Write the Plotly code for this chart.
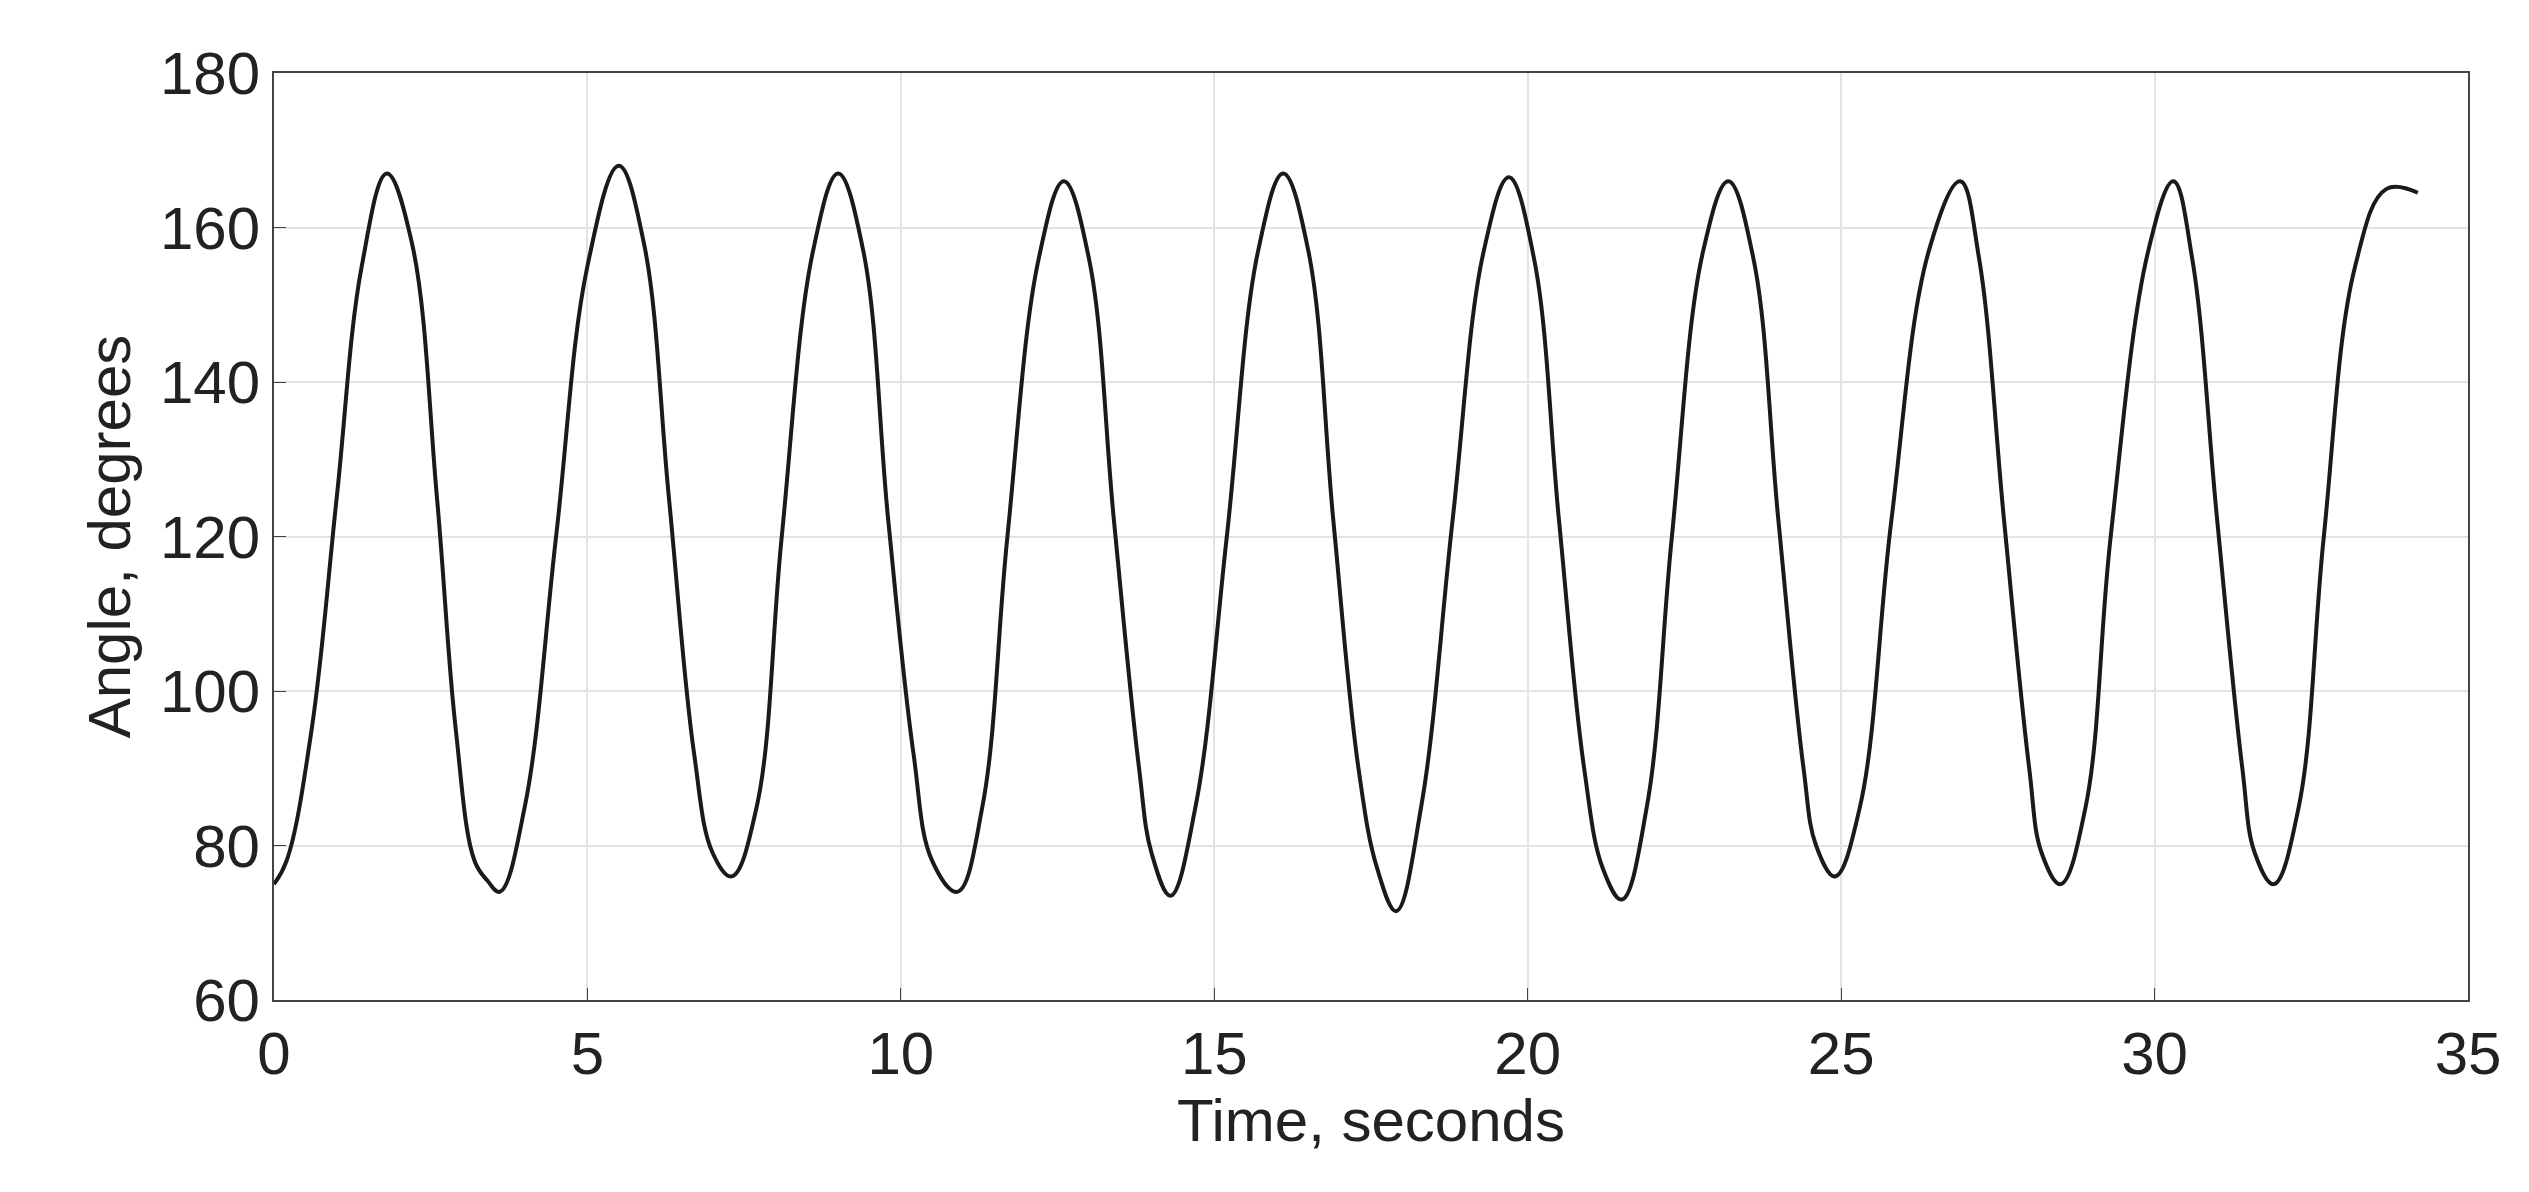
import plotly.graph_objects as go

time_s = [0, 0.2, 0.6, 1.0, 1.4, 1.8, 2.2, 2.6, 2.9, 3.2, 3.4, 3.6,
          4.0, 4.5, 5.0, 5.5, 5.9, 6.3, 6.7, 7.0, 7.3,
          7.7, 8.1, 8.6, 9.0, 9.4, 9.8, 10.2, 10.5, 10.9,
          11.3, 11.7, 12.2, 12.6, 13.0, 13.4, 13.8, 14.0, 14.3,
          14.7, 15.2, 15.7, 16.1, 16.5, 16.9, 17.3, 17.6, 17.9,
          18.3, 18.8, 19.3, 19.7, 20.1, 20.5, 20.9, 21.2, 21.5,
          21.9, 22.3, 22.8, 23.2, 23.6, 24.0, 24.4, 24.6, 24.9,
          25.3, 25.8, 26.4, 26.9, 27.2, 27.6, 28.0, 28.2, 28.5,
          28.9, 29.3, 29.9, 30.3, 30.6, 31.0, 31.4, 31.6, 31.9,
          32.3, 32.7, 33.2, 33.7, 34.2]
angle_deg = [75, 78, 95, 125, 155, 167, 158, 125, 95, 78, 75.5, 74,
             85, 120, 155, 168, 158, 125, 92, 79, 76,
             85, 120, 157, 167, 157, 122, 92, 78, 74,
             85, 120, 156, 166, 156, 122, 90, 79, 73.5,
             85, 120, 157, 167, 157, 122, 90, 77, 71.5,
             85, 122, 157, 166.5, 156, 122, 90, 77, 73,
             85, 120, 157, 166, 156, 122, 90, 80, 76,
             85, 122, 157, 166, 156, 122, 90, 79, 75,
             85, 120, 157, 166, 156, 122, 90, 79, 75,
             85, 120, 155, 165, 164.5]

fig = go.Figure(go.Scatter(x=time_s, y=angle_deg, mode="lines",
                           line=dict(color="#1a1a1a", width=4, shape="spline", smoothing=1.1)))
ax = dict(showline=True, linecolor="#444", linewidth=2, mirror=True, ticks="inside",
          ticklen=12, tickcolor="#444", gridcolor="#e3e3e3", gridwidth=1.5, zeroline=False,
          tickfont=dict(size=60, color="#222"))
fig.update_xaxes(range=[0, 35], dtick=5, title=dict(text="Time, seconds", standoff=10, font=dict(size=60, color="#222")), **ax)
fig.update_yaxes(range=[60, 180], dtick=20, title=dict(text="Angle, degrees", standoff=10, font=dict(size=60, color="#222")), **ax)
fig.update_layout(width=2529, height=1192, margin=dict(l=266, r=69, t=65, b=200),
                  paper_bgcolor="white", plot_bgcolor="white", showlegend=False,
                  font=dict(family="Liberation Sans, Arial, sans-serif"))
fig.write_html("out.html")
